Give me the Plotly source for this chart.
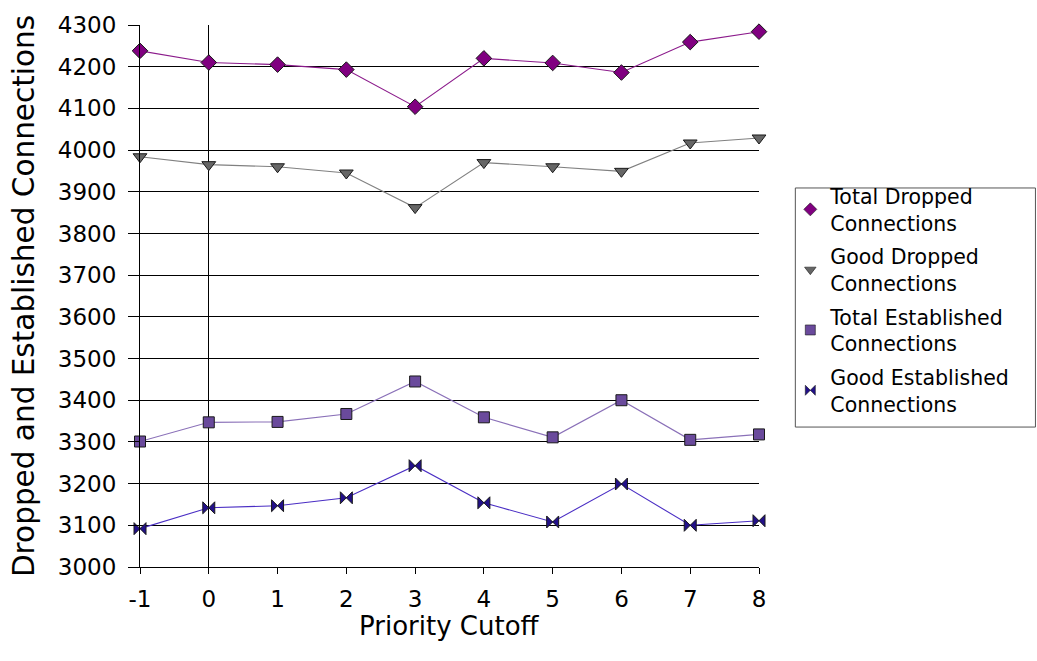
import plotly.graph_objects as go

# Priority cutoff levels on the x axis and their tick labels
cutoff = [-1, 0, 1, 2, 3, 4, 5, 6, 7, 8]
cutoff_labels = ["-1", "0", "1", "2", "3", "4", "5", "6", "7", "8"]

# Connection counts per cutoff
total_dropped = [4238, 4210, 4205, 4193, 4104, 4220, 4209, 4186, 4259, 4284]
good_dropped = [3984, 3965, 3960, 3945, 3862, 3970, 3960, 3949, 4017, 4029]
total_established = [3301, 3347, 3348, 3367, 3445, 3359, 3311, 3400, 3305, 3318]
good_established = [3092, 3142, 3147, 3166, 3243, 3154, 3108, 3199, 3100, 3111]

series_names = [
    "Total Dropped<br>Connections",
    "Good Dropped<br>Connections",
    "Total Established<br>Connections",
    "Good Established<br>Connections",
]

FONT = "DejaVu Sans"

styles = [
    dict(values=total_dropped, line="#8b1a8b", fill="#800080", symbol="diamond", size=12),
    dict(values=good_dropped, line="#808080", fill="#666666", symbol="triangle-down", size=12),
    dict(values=total_established, line="#8a70b8", fill="#6a4a9c", symbol="square", size=11),
    dict(values=good_established, line="#4a2ec4", fill="#22108a", symbol="bowtie", size=12),
]

fig = go.Figure()

for i, (name, st) in enumerate(zip(series_names, styles)):
    marker = dict(symbol=st["symbol"], size=st["size"], color=st["fill"],
                  line=dict(color="#1a1a1a", width=1))
    # data line with markers
    fig.add_trace(go.Scatter(
        x=cutoff, y=st["values"], mode="lines+markers",
        line=dict(color=st["line"], width=1.1),
        marker=marker, cliponaxis=False, showlegend=False,
    ))
    # legend key showing only the marker
    fig.add_trace(go.Scatter(
        x=[None], y=[None], mode="markers", name=name,
        legendgroup=f"g{i}",
        marker=dict(symbol=st["symbol"], size=10, color=st["fill"],
                    line=dict(color="#1a1a1a", width=0.6)),
    ))

# frame around the legend
fig.add_shape(type="rect", xref="paper", yref="paper",
              x0=1.0587, x1=1.4466, y0=0.2582, y1=0.6993,
              line=dict(color="#555555", width=1), fillcolor="rgba(0,0,0,0)")

# x-axis title
fig.add_annotation(text="Priority Cutoff", xref="paper", yref="paper",
                   x=0.5, y=-0.109, xanchor="center", yanchor="middle",
                   showarrow=False, font=dict(family=FONT, size=26, color="black"))

fig.update_layout(
    width=1037, height=661,
    margin=dict(l=140, r=278, t=18, b=94),
    paper_bgcolor="white", plot_bgcolor="white",
    font=dict(family=FONT, size=23, color="black"),
    legend=dict(
        x=1.0506, xanchor="left", y=0.721, yanchor="top",
        bgcolor="rgba(0,0,0,0)", borderwidth=0,
        font=dict(family=FONT, size=20.5, color="black"),
        tracegroupgap=4, itemwidth=30,
    ),
    xaxis=dict(
        range=[-1, 8], tickmode="array", tickvals=cutoff, ticktext=cutoff_labels,
        ticks="outside", ticklen=6, tickcolor="black", ticklabelstandoff=5,
        showline=True, linecolor="black", linewidth=1,
        showgrid=False,
        zeroline=True, zerolinecolor="black", zerolinewidth=1,
        tickfont=dict(family=FONT, size=23),
    ),
    yaxis=dict(
        range=[3000, 4300], dtick=100,
        ticks="outside", ticklen=11, tickcolor="black", ticklabelstandoff=7,
        showline=True, linecolor="black", linewidth=1,
        showgrid=True, gridcolor="black", gridwidth=1,
        zeroline=False,
        tickfont=dict(family=FONT, size=23),
        title=dict(text="Dropped and Established Connections",
                   font=dict(family=FONT, size=29.5), standoff=14),
    ),
)

fig.write_html("out.html")
